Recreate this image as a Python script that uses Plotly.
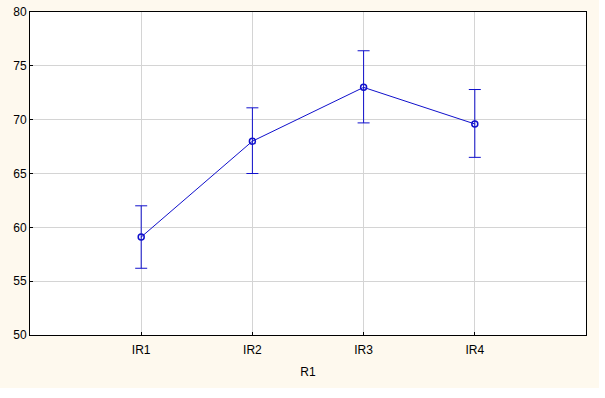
import plotly.graph_objects as go

categories = ["IR1", "IR2", "IR3", "IR4"]
means = [59.1, 68.0, 73.0, 69.6]
upper = [62.0, 71.1, 76.4, 72.8]
lower = [56.2, 65.0, 69.7, 66.5]

err_plus = [u - m for u, m in zip(upper, means)]
err_minus = [m - l for m, l in zip(means, lower)]

blue = "#1010CC"
cream = "#FEF9EE"

fig = go.Figure()
fig.add_trace(go.Scatter(
    x=categories, y=means, mode="lines+markers",
    line=dict(color=blue, width=1),
    marker=dict(symbol="circle-open", size=6, color=blue, line=dict(width=1.5, color=blue)),
    error_y=dict(type="data", symmetric=False, array=err_plus, arrayminus=err_minus,
                 color=blue, thickness=1, width=6),
    showlegend=False,
))

fig.update_layout(
    width=605, height=398,
    margin=dict(l=30, r=19, t=12, b=63, autoexpand=False),
    paper_bgcolor=cream, plot_bgcolor="white",
    font=dict(family="Liberation Sans, Arial, sans-serif", size=12, color="black"),
    xaxis=dict(
        type="category", range=[-1, 4], automargin=False,
        showgrid=True, gridcolor="#D4D4D4", gridwidth=1,
        showline=True, linecolor="black", linewidth=1, mirror=True,
        ticks="inside", ticklen=3, tickcolor="black",
        ticklabelstandoff=4,
        title=dict(text="R1", standoff=11, font=dict(size=12)),
        zeroline=False,
    ),
    yaxis=dict(
        range=[50, 80], dtick=5, automargin=False,
        showgrid=True, gridcolor="#D4D4D4", gridwidth=1,
        showline=True, linecolor="black", linewidth=1, mirror=True,
        ticks="inside", ticklen=3, tickcolor="black",
        zeroline=False,
    ),
    shapes=[
        dict(type="rect", xref="paper", yref="paper", x0=1.0234, x1=1.1, y0=-0.4, y1=1.1,
             fillcolor="white", line=dict(width=0), layer="below"),
        dict(type="rect", xref="paper", yref="paper", x0=-0.1, x1=1.1, y0=-0.4, y1=-0.164,
             fillcolor="white", line=dict(width=0), layer="below"),
    ],
)

fig.write_html("out.html")
